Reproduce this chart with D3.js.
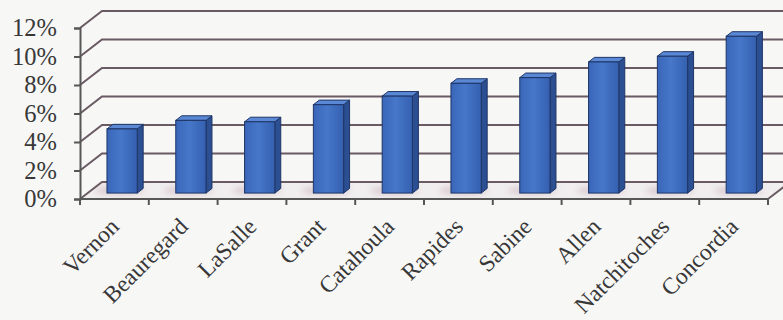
<!DOCTYPE html>
<html>
<head>
<meta charset="utf-8">
<script src="https://cdn.jsdelivr.net/npm/d3@7"></script>
<style>
  html, body { margin: 0; padding: 0; background: #f7f7f6; }
  svg { display: block; }
</style>
</head>
<body>
<svg id="chart" width="783" height="320"></svg>
<script>
// Parishes and their rates (percent)
const categories = ["Vernon", "Beauregard", "LaSalle", "Grant", "Catahoula",
                    "Rapides", "Sabine", "Allen", "Natchitoches", "Concordia"];
const values = [4.5, 5.1, 5.0, 6.2, 6.8, 7.7, 8.1, 9.2, 9.6, 11.0];
const yTicks = [0, 2, 4, 6, 8, 10, 12];

const svg = d3.select("#chart");

// Front plane scales
const x = d3.scaleBand().domain(categories).range([80, 768]).padding(0);
const y = d3.scaleLinear().domain([0, 12]).range([199, 28]);

// Depth of the 3D box (back wall offset) and placement of the bars in depth
const depth = { dx: 22, dy: -17 };
const barFront = 0.35, barBack = 0.62;
const off = f => [depth.dx * f, depth.dy * f];

const gridColor = "#6a5a63";
const axisColor = "#575757";
const textColor = "#383838";
const serif = "'Liberation Serif', 'Times New Roman', serif";

const defs = svg.append("defs");
defs.append("filter").attr("id", "soft")
  .attr("x", "-50%").attr("y", "-50%").attr("width", "200%").attr("height", "200%")
  .append("feGaussianBlur").attr("stdDeviation", 3);

const front = defs.append("linearGradient").attr("id", "frontFace")
  .attr("x1", 0).attr("x2", 1).attr("y1", 0).attr("y2", 0);
front.append("stop").attr("offset", "0%").attr("stop-color", "#3a66b8");
front.append("stop").attr("offset", "45%").attr("stop-color", "#4677c9");
front.append("stop").attr("offset", "100%").attr("stop-color", "#3560b0");

// Floor
const [bdx, bdy] = off(1);
svg.append("path")
  .attr("d", `M${x.range()[0]},${y(0)} L${x.range()[1]},${y(0)} L${x.range()[1] + bdx},${y(0) + bdy} L${x.range()[0] + bdx},${y(0) + bdy} Z`)
  .attr("fill", "#f1eeef");

// Soft shadows on the floor behind each bar
svg.append("g").selectAll("ellipse").data(categories).join("ellipse")
  .attr("cx", d => x(d) + x.bandwidth() / 2 + off(0.5)[0] - 6)
  .attr("cy", y(0) + off(0.5)[1])
  .attr("rx", x.bandwidth() * 0.36)
  .attr("ry", 4)
  .attr("fill", "#cdb8c0")
  .attr("opacity", 0.7)
  .attr("filter", "url(#soft)");

// Gridlines: left side wall diagonal + back wall line
const grid = svg.append("g").attr("fill", "none").attr("stroke", gridColor)
  .attr("stroke-width", 2);
grid.selectAll("path").data(yTicks).join("path")
  .attr("d", v => `M${x.range()[0]},${y(v)} L${x.range()[0] + bdx},${y(v) + bdy} L${x.range()[1] + bdx},${y(v) + bdy}`);

// Right edge of the floor
svg.append("line")
  .attr("x1", x.range()[1]).attr("y1", y(0))
  .attr("x2", x.range()[1] + bdx).attr("y2", y(0) + bdy)
  .attr("stroke", gridColor).attr("stroke-width", 2);

// Bars (front face, side face, top face)
const w = x.bandwidth() * 0.44;
const [fdx, fdy] = off(barFront);
const sdx = depth.dx * (barBack - barFront), sdy = depth.dy * (barBack - barFront);
const base = y(0) + fdy;
const hScale = v => y(0) - y(v);

const bars = svg.append("g").selectAll("g").data(categories).join("g");
bars.each(function (d, i) {
  const g = d3.select(this);
  const x0 = x(d) + (x.bandwidth() - w) / 2 + fdx;
  const top = base - hScale(values[i]);
  // side face
  g.append("path")
    .attr("d", `M${x0 + w},${top} L${x0 + w + sdx},${top + sdy} L${x0 + w + sdx},${base + sdy} L${x0 + w},${base} Z`)
    .attr("fill", "#2c4f92").attr("stroke", "#1e3566").attr("stroke-width", 1).attr("stroke-linejoin", "round");
  // top face
  g.append("path")
    .attr("d", `M${x0},${top} L${x0 + sdx},${top + sdy} L${x0 + w + sdx},${top + sdy} L${x0 + w},${top} Z`)
    .attr("fill", "#5a88d4").attr("stroke", "#1e3566").attr("stroke-width", 1).attr("stroke-linejoin", "round");
  // front face
  g.append("rect")
    .attr("x", x0).attr("y", top).attr("width", w).attr("height", base - top)
    .attr("fill", "url(#frontFace)").attr("stroke", "#1e3566").attr("stroke-width", 1);
});

// Y axis
const yAxis = svg.append("g").attr("transform", `translate(${x.range()[0]},0)`)
  .call(d3.axisLeft(y).tickValues(yTicks).tickSize(6).tickPadding(17)
    .tickFormat(d => d + "%"));
yAxis.select(".domain").attr("stroke", axisColor).attr("stroke-width", 2);
yAxis.selectAll(".tick line").attr("stroke", axisColor).attr("stroke-width", 2);
yAxis.selectAll("text")
  .attr("font-family", serif)
  .attr("font-size", 24.5).attr("fill", textColor);

// X axis: front floor edge with ticks at category boundaries
const bounds = categories.map(d => x(d)).concat([x.range()[1]]);
svg.append("line")
  .attr("x1", x.range()[0]).attr("y1", y(0)).attr("x2", x.range()[1]).attr("y2", y(0))
  .attr("stroke", axisColor).attr("stroke-width", 2);
svg.append("g").selectAll("line").data(bounds).join("line")
  .attr("x1", d => d).attr("x2", d => d)
  .attr("y1", y(0)).attr("y2", y(0) + 6)
  .attr("stroke", axisColor).attr("stroke-width", 2);

// Category labels rotated 45°
svg.append("g").selectAll("text").data(categories).join("text")
  .attr("transform", d => `translate(${x(d) + x.bandwidth() / 2 + 6},${y(0) + 29}) rotate(-45)`)
  .attr("text-anchor", "end")
  .attr("font-family", serif)
  .attr("font-size", 23.5)
  .attr("fill", textColor)
  .text(d => d);
</script>
</body>
</html>
